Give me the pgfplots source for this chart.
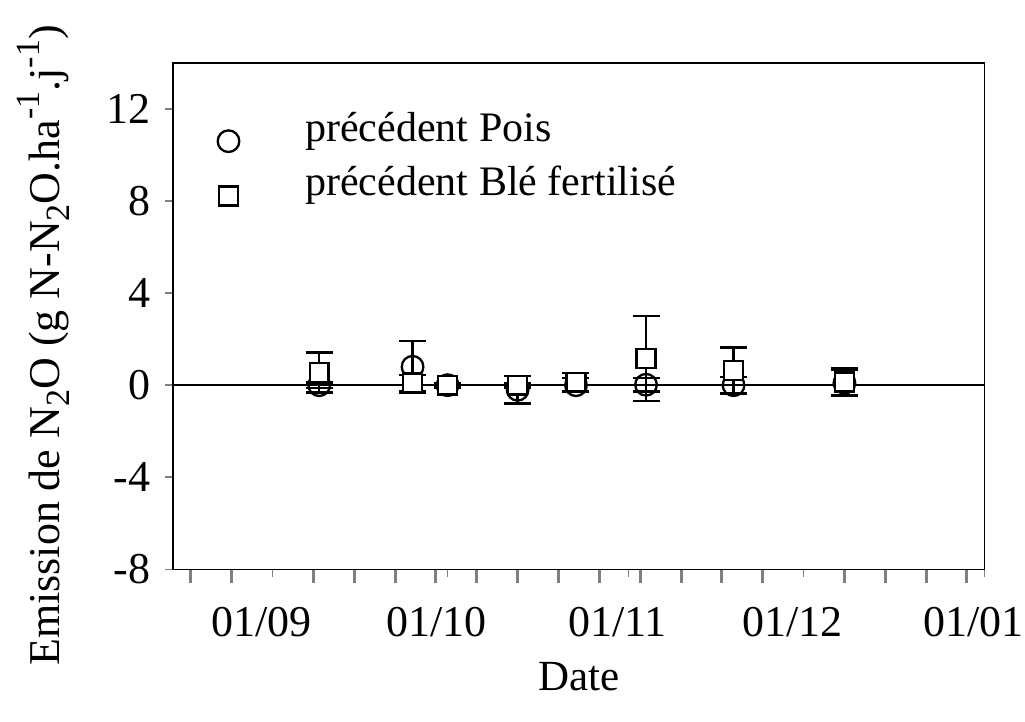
\documentclass[border=0pt]{standalone}
\usepackage{pgfplots}
\usepackage{pgfplotstable}
\pgfplotsset{compat=1.18}
\usepackage{fontspec}
\setmainfont{Liberation Serif}

\pgfplotstableread{
x y e
8 0.0 0.12
24 0.8 1.13
30 0.0 0.1
42 -0.2 0.6
52 0.0 0.3
64 0.02 0.3
79 0.0 0.35
98 0.1 0.55
}\pois

\pgfplotstableread{
x y e
8 0.55 0.87
24 0.1 0.35
30 0.0 0.1
42 0.0 0.1
52 0.13 0.4
64 1.17 1.85
79 0.64 1.0
98 0.14 0.62
}\ble

\newcommand{\mysub}[1]{\raisebox{-0.22em}{\fontsize{34bp}{40bp}\selectfont #1}}
\newcommand{\mysup}[1]{\raisebox{0.45em}{\fontsize{34bp}{40bp}\selectfont #1}}

\begin{document}
\fontsize{42bp}{50bp}\selectfont
\begin{tikzpicture}
\useasboundingbox (-173.3bp,-152.7bp) rectangle (851.7bp,569.3bp);
\begin{axis}[
  at={(0bp,0bp)}, anchor=south west,
  scale only axis, width=811.2bp, height=506.3bp,
  xmin=-17, xmax=122, ymin=-8, ymax=14,
  axis line style={line width=1.6bp},
  font=\fontsize{42bp}{50bp}\selectfont,
  tick align=outside,
  xtick pos=bottom, ytick pos=left,
  xtick={-14,-7,7,14,21,28,35,42,49,56,63,70,77,84,98,105,112,119},
  xticklabels={},
  minor xtick={0,30,61,91,122},
  extra x ticks={0,30,61,91,122},
  extra x tick labels={01/09,01/10,01/11,01/12,01/01},
  extra x tick style={major tick length=0pt, tick label style={anchor=base, yshift=-67.4bp, xshift=-11bp, font=\fontsize{44bp}{50bp}\selectfont}},
  major tick length=14bp,
  minor tick length=8bp,
  every major x tick/.append style={line width=3bp},
  every minor x tick/.append style={line width=1.5bp},
  ytick={-8,-4,0,4,8,12},
  yticklabels={-8,-4,0,4,8,12},
  ytick style={line width=1.6bp, /pgfplots/major tick length=8bp},
  yticklabel style={anchor=east, xshift=5bp, font=\fontsize{44bp}{50bp}\selectfont},
  xlabel={Date},
  every axis x label/.style={at={(axis description cs:0.5,-0.2384)}, anchor=base, font=\fontsize{43bp}{50bp}\selectfont},
  ylabel={Emission de N\mysub{2}O (g N-N\mysub{2}O.ha\mysup{-1}.j\mysup{-1})},
  every axis y label/.style={at={(axis description cs:-0.160,0.442)}, rotate=90, anchor=center, font=\fontsize{44bp}{50bp}\selectfont},
  legend style={draw=none, fill=none, at={(axis description cs:0,1)}, anchor=north west,
    xshift=44.2bp, yshift=-48bp, inner sep=0pt, row sep=14bp,
    nodes={inner sep=0pt, anchor=base west, text height=30bp, text depth=10bp},
    /tikz/every odd column/.append style={column sep=66bp}},
  legend image code/.code={\draw[#1] plot coordinates {(0bp,0bp)};},
  legend image post style={line width=1.5bp},
]
\addplot[only marks, mark=o, mark size=10.8bp, mark options={fill=white, line width=2.3bp, black},
  error bars/.cd, y dir=both, y explicit,
  error bar style={line width=2.3bp, black},
  error mark options={rotate=90, mark size=13.5bp, line width=2.3bp, black}]
  table[x=x, y=y, y error=e] {\pois};
\addlegendentry{précédent Pois}
\draw[line width=2.5bp] (axis cs:-17,0) -- (axis cs:122,0);
\addplot[only marks, mark=square*, mark size=9.4bp, mark options={fill=white, draw=black, line width=2.3bp},
  error bars/.cd, y dir=both, y explicit,
  error bar style={line width=2.3bp, black},
  error mark options={rotate=90, mark size=13.5bp, line width=2.3bp, black}]
  table[x=x, y=y, y error=e] {\ble};
\addlegendentry{précédent Blé fertilisé}
\end{axis}
\end{tikzpicture}
\end{document}
